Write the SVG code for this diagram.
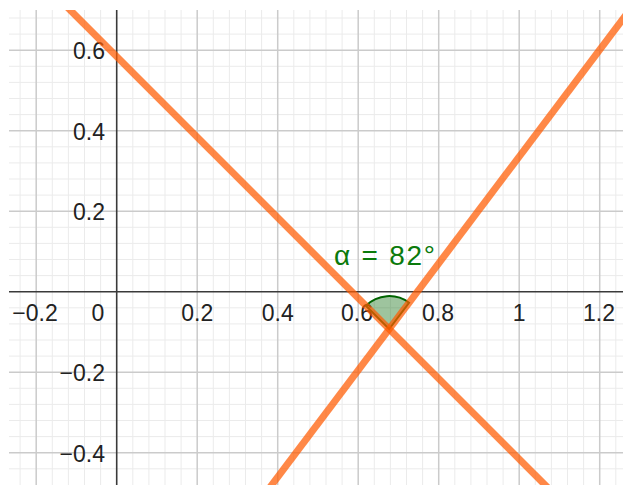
<svg xmlns="http://www.w3.org/2000/svg" width="623" height="485" viewBox="0 0 623 485">
<defs>
<clipPath id="plot"><rect x="9" y="10" width="614" height="475"/></clipPath>
<style>
.minor{stroke:#ebebeb;stroke-width:1;fill:none}
.major{stroke:#cbcbcb;stroke-width:1.5;fill:none}
.axis{stroke:#3a3a3a;stroke-width:1.6;fill:none}
.tick{font-family:"Liberation Sans",Arial,sans-serif;font-size:23px;fill:#222}
.xl{text-anchor:middle}
.yl{text-anchor:end}
.line{stroke:#ff5a00;stroke-opacity:0.72;stroke-width:7;fill:none}
.sector{fill:#006400;fill-opacity:0.38;stroke:#006400;stroke-width:2}
.alabel{font-family:"Liberation Sans",Arial,sans-serif;font-size:28px;fill:#0b7a0b}
</style>
</defs>
<rect width="623" height="485" fill="#ffffff"/>
<g id="grid" clip-path="url(#plot)">
<path class="minor" d="M20.1 10V485M52.3 10V485M68.4 10V485M84.5 10V485M100.6 10V485M132.8 10V485M148.9 10V485M165 10V485M181.1 10V485M213.3 10V485M229.4 10V485M245.5 10V485M261.6 10V485M293.8 10V485M309.9 10V485M326 10V485M342.1 10V485M374.3 10V485M390.4 10V485M406.5 10V485M422.6 10V485M454.8 10V485M470.9 10V485M487 10V485M503.1 10V485M535.3 10V485M551.4 10V485M567.5 10V485M583.6 10V485M615.8 10V485
M9 18H623M9 34.1H623M9 66.3H623M9 82.4H623M9 98.5H623M9 114.6H623M9 146.8H623M9 162.9H623M9 179H623M9 195.1H623M9 227.3H623M9 243.4H623M9 259.5H623M9 275.6H623M9 307.8H623M9 323.9H623M9 340H623M9 356.1H623M9 388.3H623M9 404.4H623M9 420.5H623M9 436.6H623M9 468.8H623"/>
<path class="major" d="M36.2 10V485M197.2 10V485M277.7 10V485M358.2 10V485M438.7 10V485M519.2 10V485M599.7 10V485M9 50.2H623M9 130.7H623M9 211.2H623M9 372.2H623M9 452.7H623"/>
</g>
<g id="axes">
<path class="axis" d="M9 291.7H623M116.7 10V485"/>
</g>
<g id="tick-labels">
<text class="tick xl" x="35" y="320.5">−0.2</text>
<text class="tick xl" x="98" y="320.5">0</text>
<text class="tick xl" x="197.2" y="320.5">0.2</text>
<text class="tick xl" x="277.7" y="320.5">0.4</text>
<text class="tick xl" x="357" y="320.5">0.6</text>
<text class="tick xl" x="438" y="320.5">0.8</text>
<text class="tick xl" x="519.2" y="320.5">1</text>
<text class="tick xl" x="599" y="320.5">1.2</text>
<text class="tick yl" x="105" y="59">0.6</text>
<text class="tick yl" x="105" y="139.5">0.4</text>
<text class="tick yl" x="105" y="220">0.2</text>
<text class="tick yl" x="105" y="381">−0.2</text>
<text class="tick yl" x="105" y="461.5">−0.4</text>
</g>
<g id="angle-alpha">
<path class="sector" d="M389.2 329.1L365.87 305.77A33 33 0 0 1 409.06 302.75Z"/>
</g>
<g id="lines" clip-path="url(#plot)">
<line class="line" x1="50" y1="-10.1" x2="560" y2="499.9"/>
<line class="line" x1="260.4" y1="500" x2="637.2" y2="0"/>
</g>
<g id="angle-label">
<text class="alabel" x="334" y="265" textLength="101" lengthAdjust="spacing" xml:space="preserve">α = 82°</text>
</g>
</svg>
